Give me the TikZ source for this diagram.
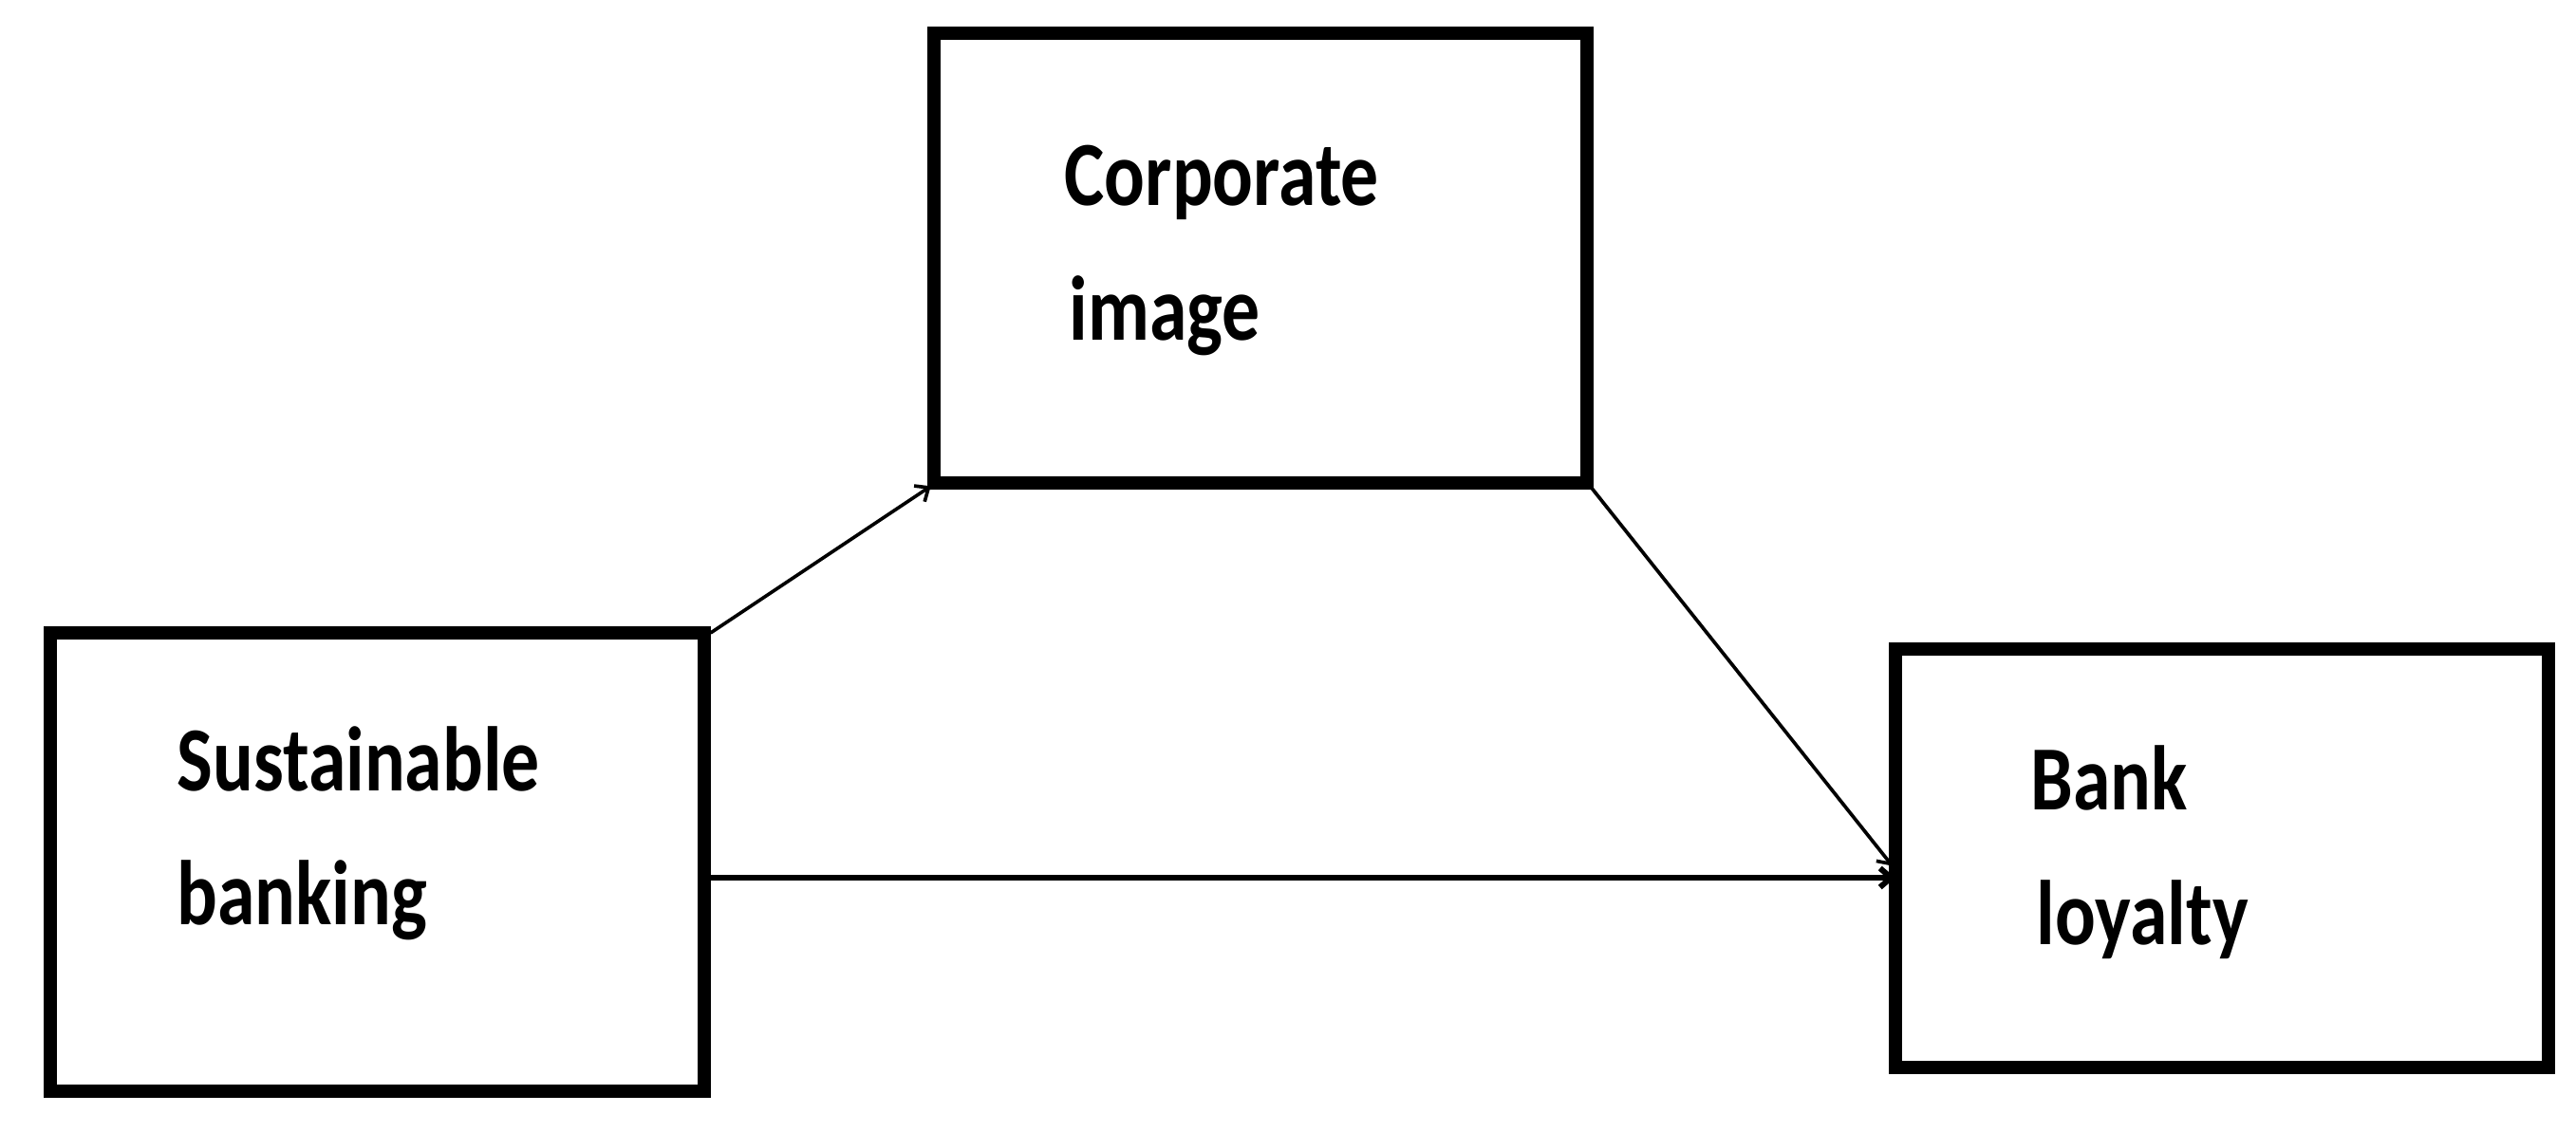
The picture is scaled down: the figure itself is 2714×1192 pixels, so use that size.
\documentclass[tikz,border=0pt]{standalone}
\usepackage{fontspec}
\setmainfont{Carlito}[BoldFont={Carlito Bold},BoldFeatures={FakeStretch=0.825}]
\usetikzlibrary{arrows.meta}
\tikzset{
  boxnode/.style={draw=black, line width=4pt, rectangle, inner sep=0pt, outer sep=0pt},
  lbl/.style={anchor=base west, inner sep=0pt, font=\fontsize{29}{34}\selectfont\bfseries},
  conn/.style={draw=black, line width=1.1pt, -{Straight Barb[length=3.5pt,width=6pt]}},
}
\begin{document}
\begin{tikzpicture}[x=0.3pt,y=-0.3pt]
\useasboundingbox (0,0) rectangle (2714,1192);
% boxes (stroke centre lines)
\node[boxnode, minimum width=206.7pt, minimum height=144.9pt] (sb) at (397.5,908.5) {};
\node[boxnode, minimum width=206.4pt, minimum height=142.2pt] (ci) at (1328,272) {};
\node[boxnode, minimum width=206.4pt, minimum height=132.3pt] (bl) at (2341,904.5) {};
% labels
\node[lbl] (sb1) at (186,833) {Sustainable};
\node[lbl] (sb2) at (186,974) {banking};
\node[lbl] (ci1) at (1121,216) {Corporate};
\node[lbl] (ci2) at (1126,358) {image};
\node[lbl] (bl1) at (2139,853) {Bank};
\node[lbl] (bl2) at (2145,995) {loyalty};
% connectors
\draw[conn] ([xshift=2pt]sb.north east) -- ([xshift=-1pt,yshift=-1pt]ci.south west);
\draw[conn] ([xshift=1pt,yshift=-1pt]ci.south east) -- ([xshift=-1pt,yshift=-2.4pt]bl.west);
\draw[conn, line width=1.8pt] ([yshift=-4.95pt]sb.east) -- ([yshift=-4.95pt]sb.east -| bl.west);
\end{tikzpicture}
\end{document}
